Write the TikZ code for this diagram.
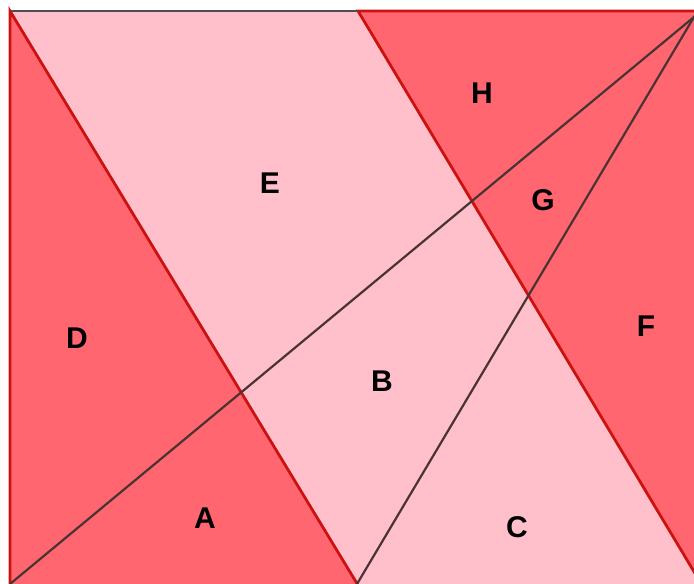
\documentclass[tikz,border=0pt]{standalone}
\usepackage{fontspec}
\setmainfont{Liberation Sans}
\usetikzlibrary{calc}
\definecolor{redfill}{HTML}{FF6670}
\definecolor{pinkfill}{HTML}{FFC0CB}
\definecolor{rededge}{HTML}{CC1111}
\definecolor{darkline}{HTML}{4A3333}
\definecolor{greyedge}{HTML}{4D4D4D}
\begin{document}
\begin{tikzpicture}[x=1pt,y=-1pt,
  redpart/.style={fill=redfill,draw=rededge,line width=2.8pt,line join=miter},
  pinkpart/.style={fill=pinkfill},
  cutline/.style={draw=darkline,line width=2.2pt},
  lbl/.style={font=\bfseries\fontsize{30}{30}\selectfont,text=black,inner sep=0pt}]
\useasboundingbox (0,0) rectangle (694,584);
\clip (0,0) rectangle (694,584);
\coordinate (TL) at (10,11);
\coordinate (TM) at (358,11);
\coordinate (TR) at (700,11);
\coordinate (BL) at (10,600);
\coordinate (BM) at (367,600);
\coordinate (BR) at (700,600);
\coordinate (RD) at (711,600);
\coordinate (P) at (694,17);
\coordinate (Q) at (10,584);
\coordinate (S) at (357,584);
% pink base
\fill[pinkpart] (TL) rectangle (BR);
% left red triangle
\draw[redpart] (TL) -- (BM) -- (BL) -- cycle;
% right red region
\draw[redpart] (TM) -- (RD) -- (TR) -- cycle;
% top edge grey part
\draw[greyedge,line width=2.6pt] (TL) -- (TM);
\draw[rededge,line width=2.8pt] (10,10) -- (10,600);
% cut lines
\draw[cutline] (Q) -- ($(Q)!1.02!(P)$);
\draw[cutline] (S) -- ($(S)!1.02!(P)$);
% labels
\node[lbl] (H) at (482,93) {H};
\node[lbl] (E) at (270,183) {E};
\node[lbl] (G) at (543,200) {G};
\node[lbl] (D) at (77,338) {D};
\node[lbl] (F) at (646,326) {F};
\node[lbl] (B) at (382,381) {B};
\node[lbl] (A) at (205,518) {A};
\node[lbl] (C) at (517,527) {C};
\end{tikzpicture}
\end{document}
